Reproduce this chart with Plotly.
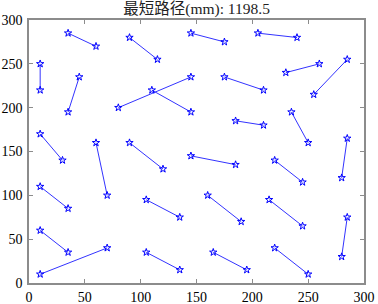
import plotly.graph_objects as go

# Segment start points
x_start = [10, 35, 90, 145, 205, 35, 80, 110, 175, 230, 255, 10, 60, 90, 145,
           185, 235, 220, 280, 10, 105, 160, 215, 285, 10, 10, 105, 165, 220]
y_start = [250, 285, 280, 285, 285, 195, 200, 220, 235, 240, 215, 170, 160, 160, 145,
           185, 195, 140, 120, 110, 95, 100, 95, 75, 60, 10, 35, 35, 40]
# Segment end points
x_end = [10, 60, 115, 175, 240, 45, 145, 145, 210, 260, 285, 30, 70, 120, 185,
         210, 250, 245, 285, 35, 135, 190, 245, 280, 35, 70, 135, 195, 250]
y_end = [220, 270, 255, 275, 280, 235, 235, 195, 220, 250, 255, 140, 100, 130, 135,
         180, 160, 115, 165, 85, 75, 70, 65, 30, 35, 40, 15, 15, 10]

title_text = "最短路径(mm): 1198.5"
x_ticks = [0, 50, 100, 150, 200, 250, 300]
y_ticks = [0, 50, 100, 150, 200, 250, 300]

lx, ly = [], []
for a, b, c, d in zip(x_start, y_start, x_end, y_end):
    lx += [a, c, None]
    ly += [b, d, None]

fig = go.Figure()
fig.add_trace(go.Scatter(x=lx, y=ly, mode="lines",
                         line=dict(color="#3333ff", width=1), hoverinfo="skip"))
fig.add_trace(go.Scatter(x=x_start + x_end, y=y_start + y_end, mode="markers",
                         marker=dict(symbol="star-open", size=5.5, color="#0000ff",
                                     line=dict(width=1, color="#0000ff"))))

font_serif = "Liberation Serif, Times New Roman, serif"
axis_common = dict(showgrid=False, zeroline=False, showline=True, mirror="ticks",
                   linecolor="#8c8c8c", linewidth=1.5, ticks="inside", ticklen=4,
                   tickcolor="#8c8c8c", tickwidth=1, automargin=False,
                   tickfont=dict(family=font_serif, size=14, color="black"))
fig.update_xaxes(range=[0, 300], tickvals=x_ticks, ticklabelstandoff=0, **axis_common)
fig.update_yaxes(range=[0, 300], tickvals=y_ticks, ticklabelstandoff=2, **axis_common)

fig.update_layout(
    width=378, height=304,
    margin=dict(l=29, r=14, t=20, b=21),
    paper_bgcolor="white", plot_bgcolor="white",
    showlegend=False,
    title=dict(text=title_text, x=0.52, xanchor="center", y=0.99, yanchor="top",
               font=dict(family="Liberation Serif, Noto Sans CJK SC, serif", size=15.5,
                         color="#222222")),
)
fig.write_html("out.html", config={"displayModeBar": False},
               post_script="document.body.style.margin='0px';")
